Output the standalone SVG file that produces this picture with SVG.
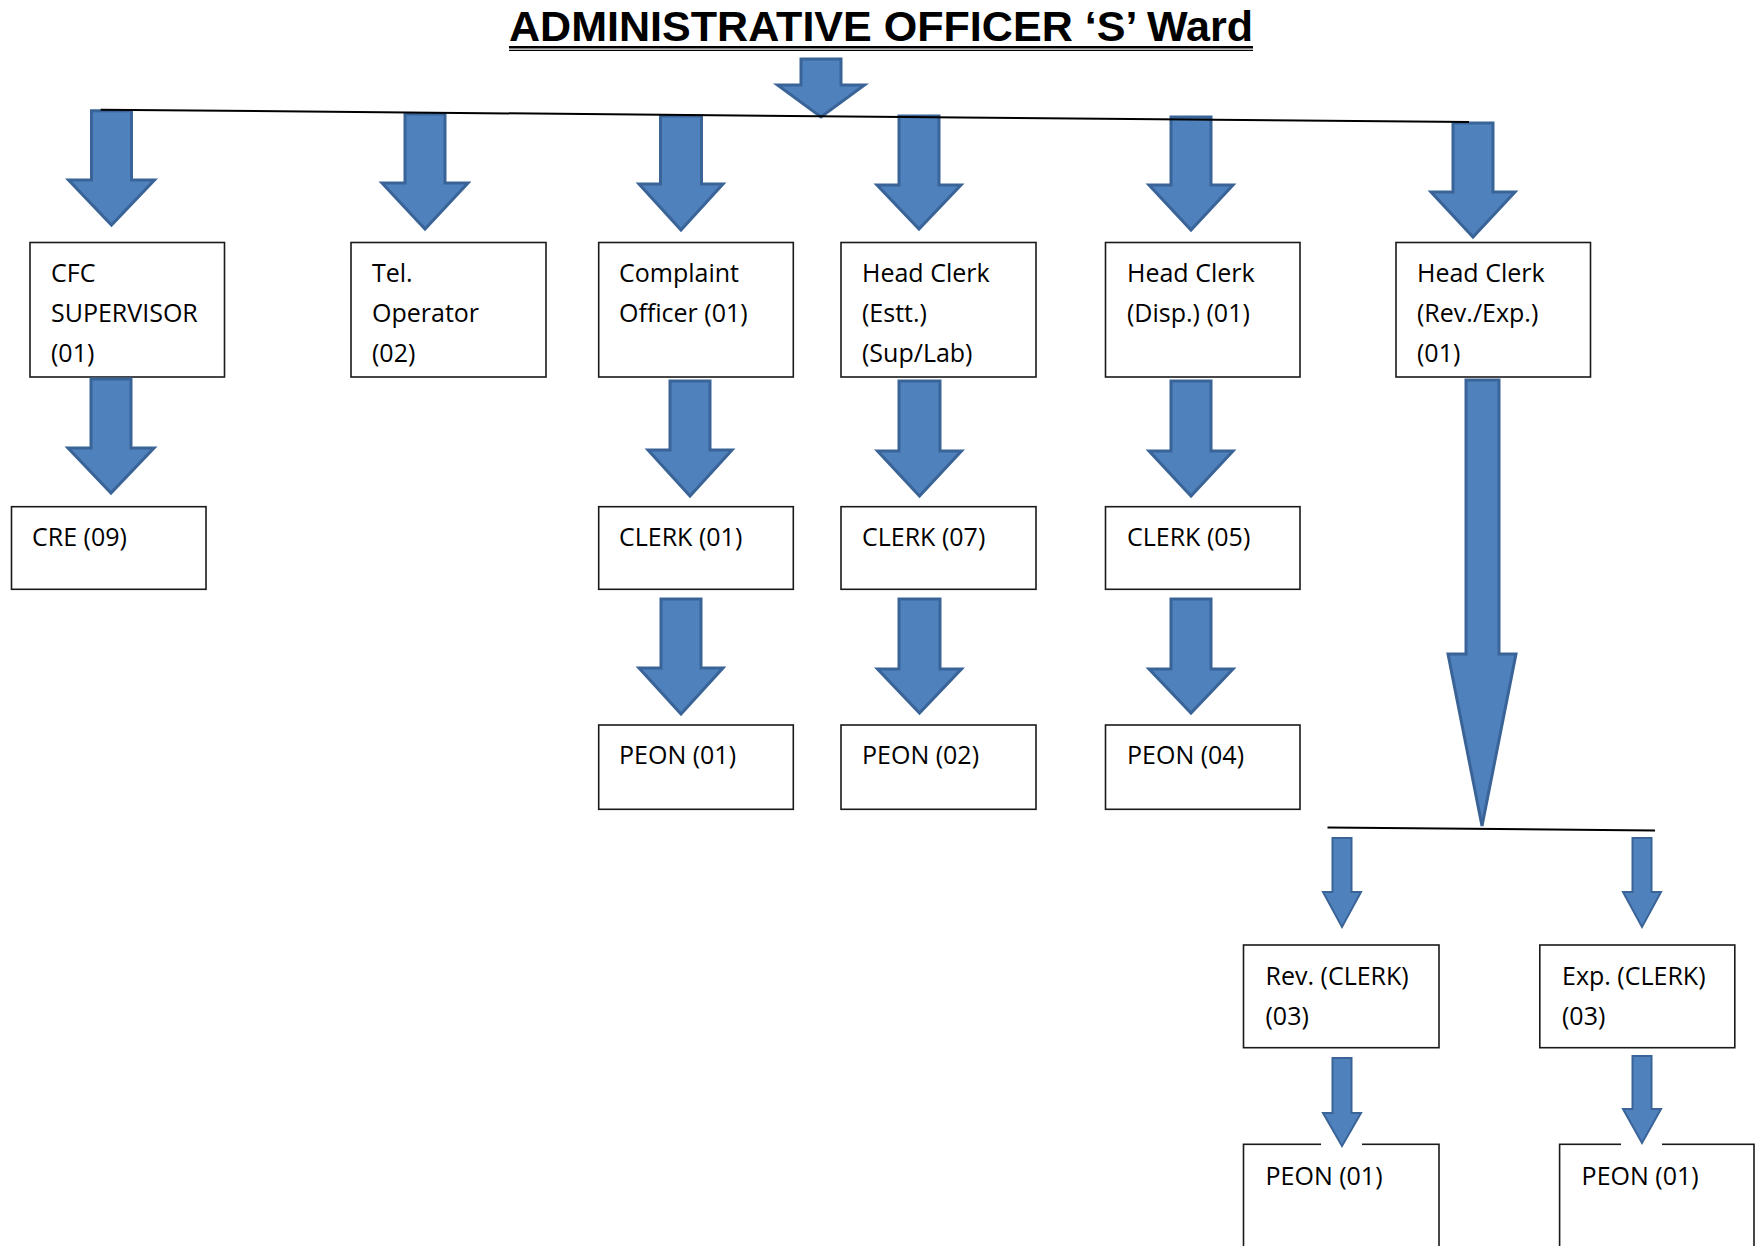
<svg xmlns="http://www.w3.org/2000/svg" width="1755" height="1246" viewBox="0 0 1755 1246">
<style>
.box{fill:#ffffff;stroke:#1a1a1a;stroke-width:1.6}
.t{font-family:"Open Sans","Liberation Sans",sans-serif;font-size:25px;fill:#000}
.title{font-family:"Liberation Sans",Arial,sans-serif;font-size:42px;font-weight:bold;fill:#000}
.arr{fill:#4F81BD;stroke:#3A6497;stroke-width:3;stroke-linejoin:miter}
.arr-s{fill:#4F81BD;stroke:#3A6497;stroke-width:2;stroke-linejoin:miter}
.ln{stroke:#000;stroke-width:2;fill:none}
</style>
<rect width="1755" height="1246" fill="#ffffff"/>

<g id="title">
  <text class="title" x="509" y="41" textLength="744" lengthAdjust="spacingAndGlyphs">ADMINISTRATIVE OFFICER ‘S’ Ward</text>
  <line x1="509" y1="47.3" x2="1253" y2="47.3" stroke="#000" stroke-width="2.6"/>
  <line x1="509" y1="50.4" x2="1253" y2="50.4" stroke="#000" stroke-width="1.4"/>
</g>

<g id="n_cfc"><rect class="box" x="30" y="242.5" width="194.5" height="134.5"/>
  <text class="t" x="51" y="281.5">CFC</text><text class="t" x="51" y="321.5">SUPERVISOR</text><text class="t" x="51" y="361.5">(01)</text></g>
<g id="n_tel"><rect class="box" x="351" y="242.5" width="195" height="134.5"/>
  <text class="t" x="372" y="281.5">Tel.</text><text class="t" x="372" y="321.5">Operator</text><text class="t" x="372" y="361.5">(02)</text></g>
<g id="n_complaint"><rect class="box" x="598.7" y="242.5" width="194.6" height="134.5"/>
  <text class="t" x="619" y="281.5">Complaint</text><text class="t" x="619" y="321.5">Officer (01)</text></g>
<g id="n_estt"><rect class="box" x="841" y="242.5" width="195" height="134.5"/>
  <text class="t" x="862" y="281.5">Head Clerk</text><text class="t" x="862" y="321.5">(Estt.)</text><text class="t" x="862" y="361.5">(Sup/Lab)</text></g>
<g id="n_disp"><rect class="box" x="1105.5" y="242.5" width="194.5" height="134.5"/>
  <text class="t" x="1127" y="281.5">Head Clerk</text><text class="t" x="1127" y="321.5">(Disp.) (01)</text></g>
<g id="n_revexp"><rect class="box" x="1396" y="242.5" width="194.5" height="134.5"/>
  <text class="t" x="1417" y="281.5">Head Clerk</text><text class="t" x="1417" y="321.5">(Rev./Exp.)</text><text class="t" x="1417" y="361.5">(01)</text></g>

<g id="n_cre"><rect class="box" x="11.5" y="506.7" width="194.5" height="82.6"/>
  <text class="t" x="32" y="546">CRE (09)</text></g>
<g id="n_clerk01"><rect class="box" x="598.7" y="506.7" width="194.6" height="82.6"/>
  <text class="t" x="619" y="546">CLERK (01)</text></g>
<g id="n_clerk07"><rect class="box" x="841" y="506.7" width="195" height="82.6"/>
  <text class="t" x="862" y="546">CLERK (07)</text></g>
<g id="n_clerk05"><rect class="box" x="1105.5" y="506.7" width="194.5" height="82.6"/>
  <text class="t" x="1127" y="546">CLERK (05)</text></g>

<g id="n_peon01"><rect class="box" x="598.7" y="725" width="194.6" height="84.3"/>
  <text class="t" x="619" y="764">PEON (01)</text></g>
<g id="n_peon02"><rect class="box" x="841" y="725" width="195" height="84.3"/>
  <text class="t" x="862" y="764">PEON (02)</text></g>
<g id="n_peon04"><rect class="box" x="1105.5" y="725" width="194.5" height="84.3"/>
  <text class="t" x="1127" y="764">PEON (04)</text></g>

<g id="n_revclerk"><rect class="box" x="1243.5" y="945" width="195.5" height="102.7"/>
  <text class="t" x="1265.5" y="984.5">Rev. (CLERK)</text><text class="t" x="1265.5" y="1024.5">(03)</text></g>
<g id="n_expclerk"><rect class="box" x="1539.8" y="945" width="195" height="102.7"/>
  <text class="t" x="1562" y="984.5">Exp. (CLERK)</text><text class="t" x="1562" y="1024.5">(03)</text></g>
<g id="n_peon_rev"><rect class="box" x="1243.5" y="1144.3" width="195.5" height="130"/>
  <text class="t" x="1265.5" y="1184.5">PEON (01)</text></g>
<g id="n_peon_exp"><rect class="box" x="1559.6" y="1144.3" width="194.4" height="130"/>
  <text class="t" x="1581.6" y="1184.5">PEON (01)</text></g>

<g id="connectors">
  <!-- top level -->
  <polygon class="arr" points="801,59 841,59 841,85 864.5,85 821,117 777.5,85 801,85"/>
  <polygon class="arr" points="91.5,110.7 131.5,110.7 131.5,180 154.5,180 111.5,225 68.5,180 91.5,180"/>
  <polygon class="arr" points="405,114 445,114 445,183 468,183 425,229 382,183 405,183"/>
  <polygon class="arr" points="660.5,116 701.5,116 701.5,184 723,184 681,230 639,184 660.5,184"/>
  <polygon class="arr" points="899,116 939,116 939,185 961,185 919,229 877,185 899,185"/>
  <polygon class="arr" points="1171,117 1211,117 1211,185 1233,185 1191,230 1149,185 1171,185"/>
  <polygon class="arr" points="1453,123 1493,123 1493,192 1515,192 1473,237 1431,192 1453,192"/>
  <!-- second level -->
  <polygon class="arr" points="91,379 131,379 131,448 154,448 111,493 68,448 91,448"/>
  <polygon class="arr" points="670,381 710,381 710,450 732,450 690,496 648,450 670,450"/>
  <polygon class="arr" points="899,381 940,381 940,451 961.5,451 919.5,496 877.5,451 899,451"/>
  <polygon class="arr" points="1171,381 1211,381 1211,451 1233,451 1191,496 1149,451 1171,451"/>
  <!-- third level -->
  <polygon class="arr" points="661,599 701,599 701,668 723,668 681,714 639,668 661,668"/>
  <polygon class="arr" points="899,599 940,599 940,669 961.5,669 919.5,713 877.5,669 899,669"/>
  <polygon class="arr" points="1171,599 1211,599 1211,669 1233,669 1191,713 1149,669 1171,669"/>
  <!-- big arrow -->
  <polygon class="arr" points="1466,380 1499,380 1499,654 1516,654 1482,826 1448,654 1466,654"/>
  <!-- small arrows -->
  <polygon class="arr-s" points="1332.5,838 1351.5,838 1351.5,892 1361,892 1342,927 1323,892 1332.5,892"/>
  <polygon class="arr-s" points="1632.5,838 1651.5,838 1651.5,892 1661,892 1642,927 1623,892 1632.5,892"/>
  <rect x="1321" y="1141" width="41" height="6" fill="#ffffff"/>
  <rect x="1621" y="1141" width="41" height="6" fill="#ffffff"/>
  <polygon class="arr-s" points="1332.5,1058 1351.5,1058 1351.5,1113 1361,1113 1342,1146 1323,1113 1332.5,1113"/>
  <polygon class="arr-s" points="1632.5,1056 1651.5,1056 1651.5,1109 1661,1109 1642,1143 1623,1109 1632.5,1109"/>
  <!-- bus lines -->
  <line class="ln" x1="100.7" y1="109.7" x2="1469" y2="122"/>
  <line class="ln" x1="1327.5" y1="827.5" x2="1655" y2="830.5"/>
</g>
</svg>
